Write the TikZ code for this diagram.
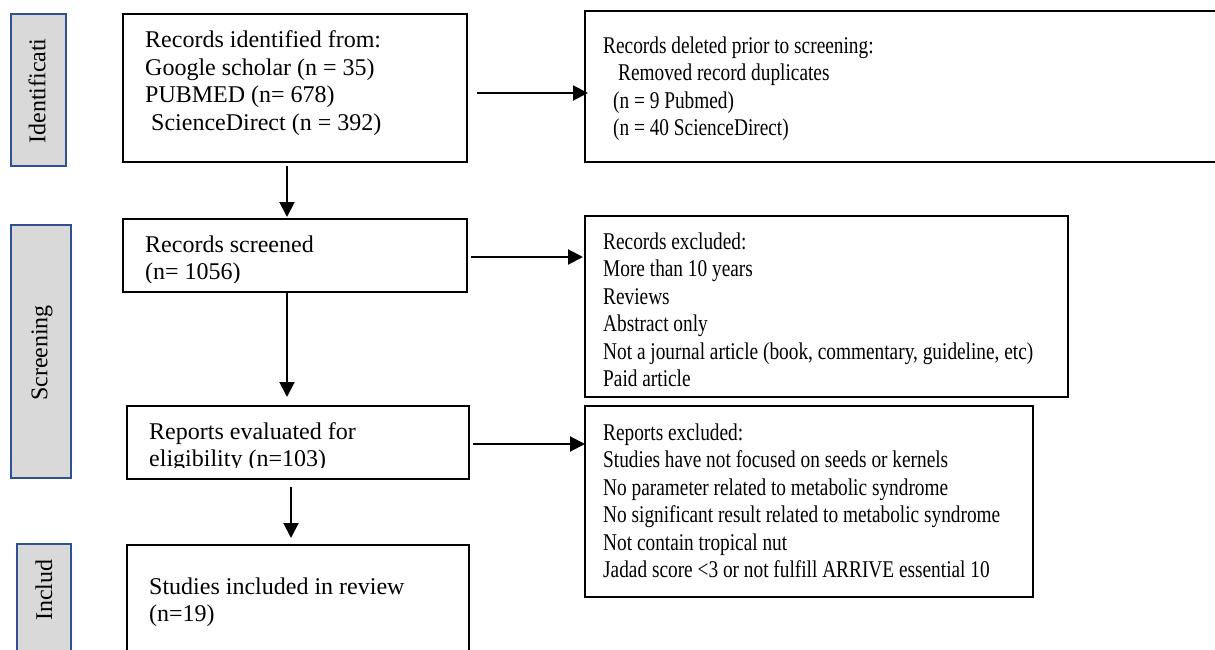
\documentclass[tikz,border=0pt]{standalone}
\usepackage{fontspec}
\setmainfont{Liberation Serif}
\usetikzlibrary{arrows.meta}
\definecolor{lblblue}{HTML}{2F528F}
\definecolor{lblgray}{HTML}{D9D9D9}
\newcommand{\narrowlines}[1]{\scalebox{0.805}[1]{\begin{tabular}[b]{@{}l@{}}#1\end{tabular}}}
\begin{document}
\begin{tikzpicture}[x=1pt,y=-1pt,
  box/.style={draw, line width=2pt, inner sep=0pt, outer sep=0pt},
  lbl/.style={draw=lblblue, fill=lblgray, line width=2pt, inner sep=0pt},
  lbltxt/.style={rotate=90, inner sep=0pt, font=\fontsize{24}{27.5}\selectfont},
  txt/.style={anchor=base west, align=left, inner sep=0pt, font=\fontsize{24}{27.5}\selectfont},
  arr/.style={line width=2pt, -{Triangle[length=15pt,width=15pt]}},
  ]
\useasboundingbox (0,0) rectangle (1215,650);

% stage labels
\node[lbl, minimum width=55pt, minimum height=152pt] (l1) at (38.5,90) {};
\node[lbltxt] (l1t) at (37,91) {Identificati};
\node[lbl, minimum width=60pt, minimum height=253pt] (l2) at (41,351.5) {};
\node[lbltxt] (l2t) at (42,353) {Screening};
\node[lbl, minimum width=54pt, minimum height=136pt] (l3) at (44,612) {};
\node[lbltxt] (l3t) at (44,590) {Includ};

% boxes
\node[box, minimum width=344pt, minimum height=148pt] (b1) at (295,88) {};
\node[box, minimum width=650pt, minimum height=151pt] (r1) at (910,86.5) {};
\node[box, minimum width=344pt, minimum height=73pt] (b2) at (295,255.5) {};
\node[box, minimum width=483pt, minimum height=181pt] (r2) at (826.5,306.5) {};
\node[box, minimum width=342pt, minimum height=73pt] (b3) at (298,442.5) {};
\node[box, minimum width=448pt, minimum height=191pt] (r3) at (809,501.5) {};
\node[box, minimum width=342pt, minimum height=130pt] (b4) at (298,610) {};

% texts (anchored at the baseline of the last line)
\node[txt] (b1t) at (145,130.5) {Records identified from:\\Google scholar (n = 35)\\PUBMED (n= 678)\\\hspace*{6pt}ScienceDirect (n = 392)};
\node[txt] (r1t) at (603,135.5) {\narrowlines{Records deleted prior to screening:\\\hspace*{18.6pt}Removed record duplicates\\\hspace*{12.4pt}(n = 9 Pubmed)\\\hspace*{12.4pt}(n = 40 ScienceDirect)}};
\begin{scope}
\clip (125,221) rectangle (465,282);
\node[txt] (b2t) at (145,279.5) {Records screened\\(n= 1056)};
\end{scope}
\begin{scope}
\clip (587,218) rectangle (1066,388);
\node[txt] (r2t) at (603,386.5) {\narrowlines{Records excluded:\\More than 10 years\\Reviews\\Abstract only\\Not a journal article (book, commentary, guideline, etc)\\Paid article}};
\end{scope}
\begin{scope}
\clip (129,408) rectangle (467,467);
\node[txt] (b3t) at (149,466.5) {Reports evaluated for\\eligibility (n=103)};
\end{scope}
\node[txt] (r3t) at (603,577.5) {\narrowlines{Reports excluded:\\Studies have not focused on seeds or kernels\\No parameter related to metabolic syndrome\\No significant result related to metabolic syndrome\\Not contain tropical nut\\Jadad score <3 or not fulfill ARRIVE essential 10}};
\node[txt] (b4t) at (149,621.5) {Studies included in review\\(n=19)};

% arrows
\draw[arr] ([shift={(10,5)}]b1.east) -- ([shift={(3,6.5)}]r1.west);
\draw[arr] ([shift={(-8,4)}]b1.south) -- ([shift={(-8,-2)}]b2.north);
\draw[arr] ([shift={(4,1.5)}]b2.east) -- ([shift={(-2,-49.5)}]r2.west);
\draw[arr] ([shift={(-8,0)}]b2.south) -- ([shift={(-11,-9)}]b3.north);
\draw[arr] ([shift={(4,1.5)}]b3.east) -- ([shift={(0,-57.5)}]r3.west);
\draw[arr] ([shift={(-7,8)}]b3.south) -- ([shift={(-7,-7)}]b4.north);
\end{tikzpicture}
\end{document}
